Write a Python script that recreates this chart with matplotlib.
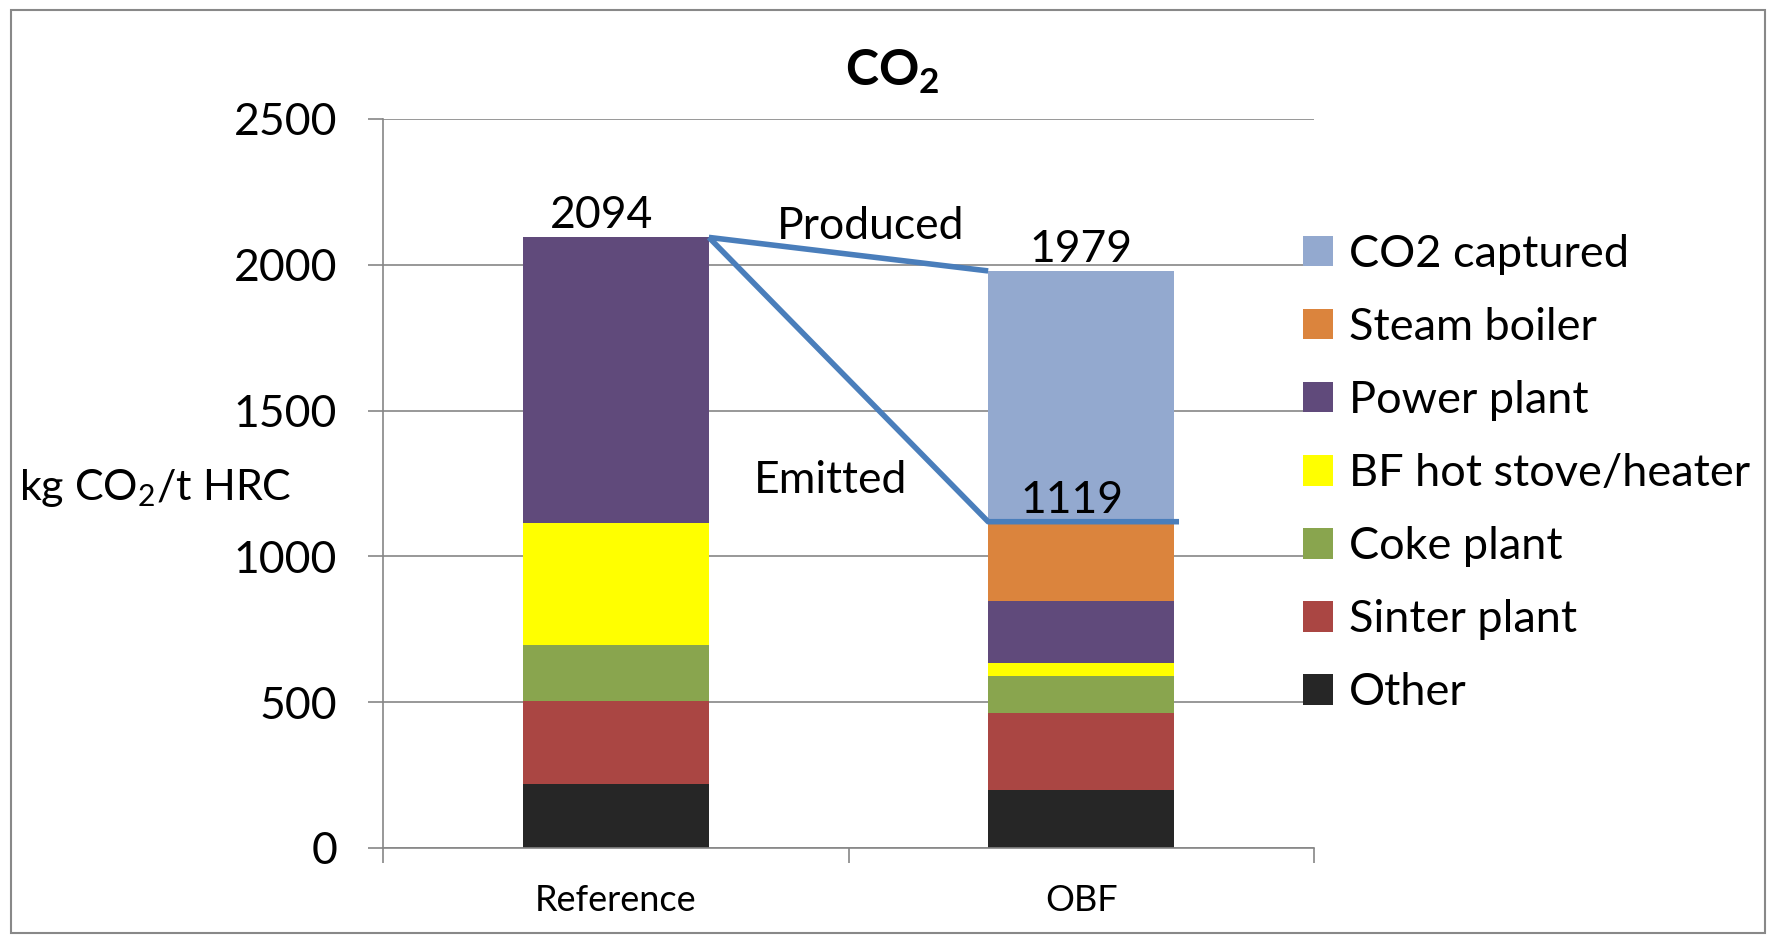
import numpy as np
import matplotlib.pyplot as plt
from matplotlib.patches import Rectangle

plt.rcParams['font.family'] = ['Lato', 'DejaVu Sans']
plt.rcParams['mathtext.fontset'] = 'custom'
plt.rcParams['mathtext.rm'] = 'Lato'
plt.rcParams['mathtext.bf'] = 'Lato:bold'

# kg CO2 per t hot rolled coil, by source
categories = ["Reference", "OBF"]
other = [220, 200]
sinter = [283, 264]
coke = [193, 126]
bf_stove = [419, 43]
power = [979, 213]
steam = [0, 273]
captured = [0, 860]

series = [
    ("Other", other, "#262626"),
    ("Sinter plant", sinter, "#AA4643"),
    ("Coke plant", coke, "#89A54E"),
    ("BF hot stove/heater", bf_stove, "#FFFF00"),
    ("Power plant", power, "#604A7B"),
    ("Steam boiler", steam, "#DB843D"),
    ("CO2 captured", captured, "#93A9CF"),
]

W, H, DPI = 1771, 936, 100
fig = plt.figure(figsize=(W / DPI, H / DPI), dpi=DPI)
ax = fig.add_axes([383 / W, (H - 848) / H, (1314 - 383) / W, (848 - 119) / H])

x = np.arange(len(categories))
bottom = np.zeros(len(categories))
handles = []
for name, vals, col in series:
    b = ax.bar(x, vals, 0.4, bottom=bottom, color=col, label=name, zorder=2)
    handles.append(b)
    bottom += np.array(vals)

produced = bottom
emitted = produced - np.array(captured)

# produced / emitted lines between the bars
line_kw = dict(color="#4A7EBB", lw=4, zorder=3, solid_capstyle="butt")
ax.plot([0.2, 0.8], [produced[0], produced[1]], **line_kw)
ax.plot([0.2, 0.8, 1.21], [emitted[0], emitted[1], emitted[1]], **line_kw)

fs = 32
lab_kw = dict(fontsize=fs, ha="center", va="baseline", textcoords="offset points")
ax.annotate(f"{produced[0]:.0f}", (-0.03, produced[0]), xytext=(0, 6.5), **lab_kw)
ax.annotate(f"{produced[1]:.0f}", (1.0, produced[1]), xytext=(0, 6.5), **lab_kw)
ax.annotate(f"{emitted[1]:.0f}", (0.98, emitted[1]), xytext=(0, 6.5), **lab_kw)
ax.text(0.548, 2130, "Produced", fontsize=fs, ha="center", va="center")
ax.text(0.462, 1217, "Emitted", fontsize=fs, ha="center", va="baseline")

ax.set_xlim(-0.5, 1.5)
ax.set_ylim(0, 2500)
ax.set_yticks(np.arange(0, 2501, 500))
ax.yaxis.grid(True, color="#868686", lw=1.2, zorder=0)
ax.tick_params(axis="y", labelsize=fs, length=11, width=1.2, color="#868686", pad=22)
ax.set_xticks(x)
ax.set_xticklabels(categories)
ax.set_xticks([-0.5, 0.5, 1.5], minor=True)
ax.tick_params(axis="x", which="major", length=0, labelsize=26, pad=26)
ax.tick_params(axis="x", which="minor", length=11, width=1.2, color="#868686")
for s in ["top", "right"]:
    ax.spines[s].set_visible(False)
for s in ["left", "bottom"]:
    ax.spines[s].set_color("#868686")
    ax.spines[s].set_linewidth(1.2)

ax.legend(handles[::-1], [h.get_label() for h in handles[::-1]],
          loc="upper left", bbox_to_anchor=(1303 / W, 1 - 234 / H),
          bbox_transform=fig.transFigure, frameon=False, fontsize=32.5,
          handlelength=0.66, handleheight=0.66, handletextpad=0.35,
          labelspacing=0.71, borderpad=0, borderaxespad=0)

fig.text(892 / W, 1 - 72 / H, r"CO$_\mathbf{2}$", fontsize=36, fontweight="bold",
         ha="center", va="center")
fig.text(19 / W, 1 - 488 / H, r"kg CO$_2$/t HRC", fontsize=31, ha="left", va="center")

fig.patches.append(Rectangle((11 / W, 3 / H), (1765 - 11) / W, (926 - 3) / H,
                             transform=fig.transFigure, fill=False,
                             edgecolor="#888888", lw=1.5))

fig.savefig("out.png", dpi=DPI)
